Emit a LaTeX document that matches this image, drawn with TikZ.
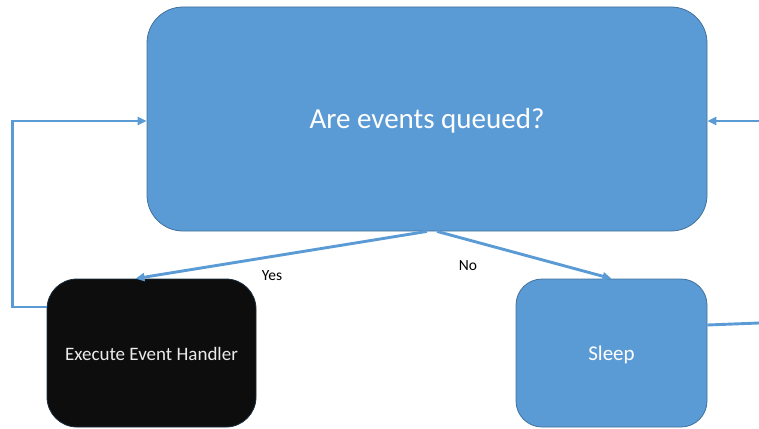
\documentclass[tikz,border=0pt]{standalone}
\usepackage{fontspec}
\setmainfont{Carlito}
\usetikzlibrary{arrows.meta}
\definecolor{boxblue}{HTML}{5B9BD5}
\definecolor{boxedge}{HTML}{41719C}
\definecolor{handler}{HTML}{0D0D0D}
\tikzset{
  flowbox/.style={rectangle, inner sep=0pt, line width=0.8pt, text depth=0pt},
  bluebox/.style={flowbox, fill=boxblue, draw=boxedge, text=white},
  darkbox/.style={flowbox, fill=handler, draw=boxedge!40!black, text=white!92!black},
  link/.style={draw=boxblue, line width=2.9pt},
  arrowlink/.style={link, -{Triangle[length=9pt,width=8pt]}},
  branchlabel/.style={font=\fontsize{15.5}{18}\selectfont, text=black}
}
\begin{document}
\begin{tikzpicture}[x=1pt, y=-1pt]
  \useasboundingbox (0,0) rectangle (759,428);

  % decision and the two outcomes
  \node[bluebox, minimum width=560pt, minimum height=224pt, rounded corners=36pt,
        text height=18pt, font=\fontsize{29}{32}\selectfont] (main) at (427,119) {Are events queued?};
  \node[darkbox, minimum width=209pt, minimum height=148pt, rounded corners=30pt,
        text height=14pt, font=\fontsize{19}{22}\selectfont] (exec) at (151.5,353) {Execute Event Handler};
  \node[bluebox, minimum width=191pt, minimum height=148pt, rounded corners=26pt,
        text height=14pt, font=\fontsize{21}{24}\selectfont] (sleep) at (611.5,353) {Sleep};

  % loose ends at the right margin
  \coordinate (rout) at (759,323);
  \coordinate (rin) at (759,121);

  % branches
  \draw[arrowlink] (main.south) -- ([xshift=-16pt]exec.north);
  \draw[arrowlink] ([xshift=10pt]main.south) -- (sleep.north);
  \node[branchlabel] (yes) at (272,276) {Yes};
  \node[branchlabel] (no) at (468,266) {No};

  % loop back from the handler
  \draw[arrowlink] ([yshift=46pt]exec.west) -- ++(-34,0) |- ([yshift=-2pt]main.west);

  % loop from sleep around the right side
  \draw[link] ([yshift=28pt]sleep.east) -- (rout);
  \draw[arrowlink] (rin) -- ([yshift=-2pt]main.east);
\end{tikzpicture}
\end{document}
